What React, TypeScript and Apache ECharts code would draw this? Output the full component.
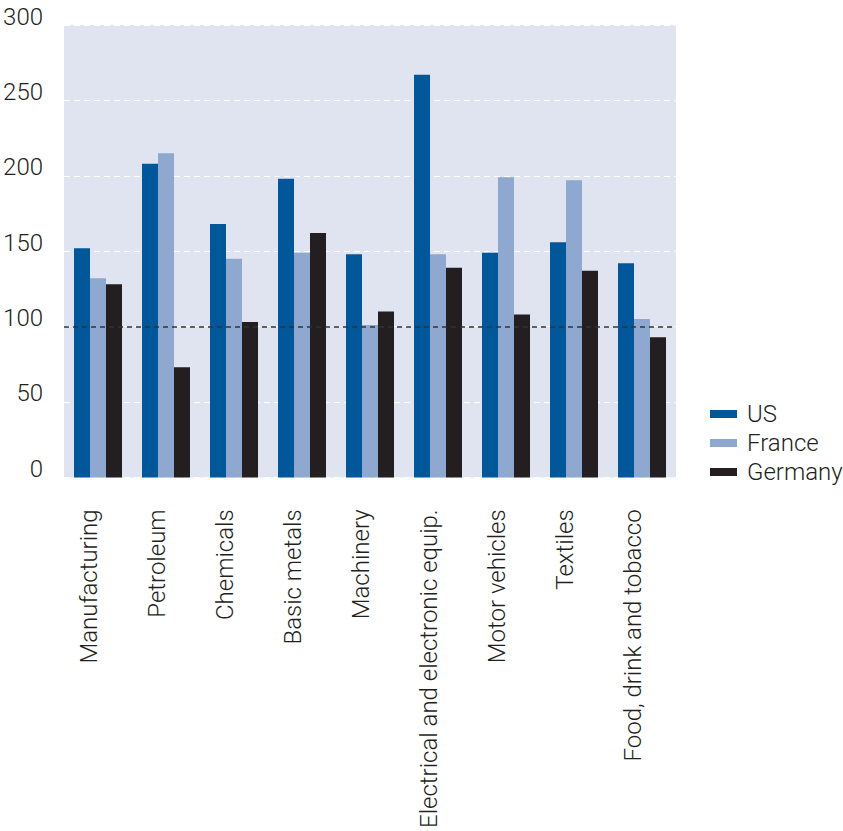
import React, { useEffect, useRef } from "react";
import * as echarts from "echarts";

const categories = [
  "Manufacturing",
  "Petroleum",
  "Chemicals",
  "Basic metals",
  "Machinery",
  "Electrical and electronic equip.",
  "Motor vehicles",
  "Textiles",
  "Food, drink and tobacco",
];
const usValues = [152, 208, 168, 198, 148, 267, 149, 156, 142];
const franceValues = [132, 215, 145, 149, 101, 148, 199, 197, 105];
const germanyValues = [128, 73, 103, 162, 110, 139, 108, 137, 93];
const seriesNames = ["US", "France", "Germany"];
const referenceLevel = 100;

const FONT = "Roboto, 'Liberation Sans', Arial, sans-serif";
const TEXT_COLOR = "#231f20";

export default function App() {
  const ref = useRef<HTMLDivElement>(null);
  useEffect(() => {
    document.body.style.margin = "0";
    const chart = echarts.init(ref.current!, null, { renderer: "svg" });
    const colors = ["#00589b", "#8ea8cf", "#231f20"];
    const data = [usValues, franceValues, germanyValues];
    chart.setOption({
      animation: false,
      backgroundColor: "#ffffff",
      textStyle: { fontFamily: FONT },
      grid: {
        left: 64,
        top: 25,
        width: 612,
        height: 455,
        show: true,
        backgroundColor: "#dfe4f0",
        borderWidth: 0,
        containLabel: false,
      },
      legend: {
        orient: "vertical",
        left: 705,
        top: 397,
        itemWidth: 27,
        itemHeight: 8,
        itemGap: 5,
        icon: "rect",
        data: seriesNames,
        textStyle: {
          fontFamily: FONT,
          fontSize: 24,
          fontWeight: 300,
          color: TEXT_COLOR,
          lineHeight: 24,
          padding: [0, 0, 0, 5],
        },
      },
      xAxis: {
        type: "category",
        data: categories,
        axisLine: { show: false },
        axisTick: { show: false },
        splitLine: { show: false },
        axisLabel: {
          rotate: 90,
          interval: 0,
          margin: 32,
          fontFamily: FONT,
          fontSize: 24,
          fontWeight: 300,
          color: TEXT_COLOR,
          verticalAlign: "bottom",
          lineHeight: 18,
        },
      },
      yAxis: {
        type: "value",
        min: 0,
        max: 300,
        interval: 50,
        axisLine: { show: false },
        axisTick: { show: false },
        splitLine: {
          show: true,
          lineStyle: { color: "#ffffff", type: [6, 4], width: 1.2 },
        },
        axisLabel: {
          margin: 21,
          fontFamily: FONT,
          fontSize: 24,
          fontWeight: 300,
          color: TEXT_COLOR,
          verticalAlign: "bottom",
          lineHeight: 17,
        },
      },
      series: seriesNames.map((name, i) => ({
        name,
        type: "bar",
        data: data[i],
        barWidth: 16,
        barGap: "0%",
        itemStyle: { color: colors[i] },
        emphasis: { disabled: true },
        ...(i === 2
          ? {
              markLine: {
                silent: true,
                symbol: "none",
                label: { show: false },
                lineStyle: { color: "#333333", type: [5, 4], width: 1.5 },
                data: [{ yAxis: referenceLevel }],
                z: 10,
              },
            }
          : {}),
      })),
    });
    return () => chart.dispose();
  }, []);
  return <div ref={ref} style={{ width: 843, height: 831 }} />;
}
